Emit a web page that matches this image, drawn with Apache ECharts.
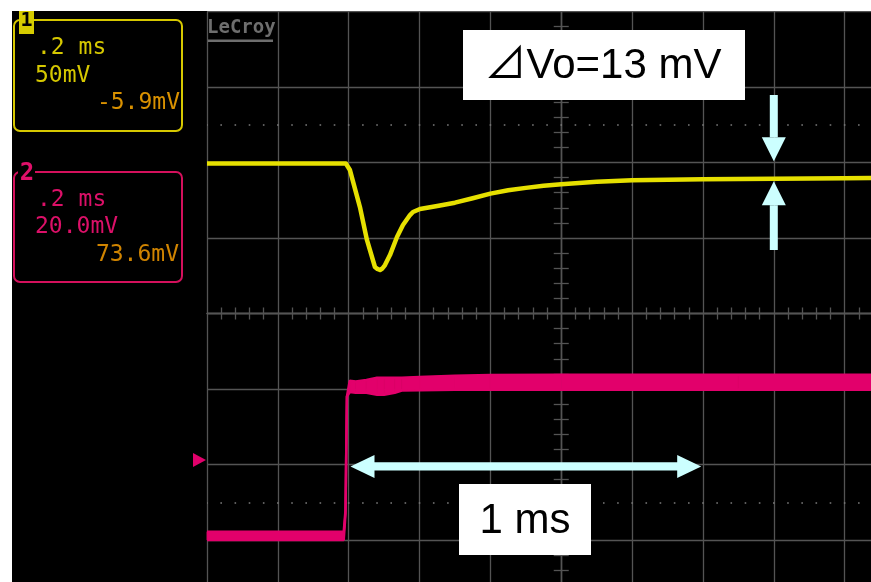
<!DOCTYPE html>
<html><head><meta charset="utf-8">
<script src="https://cdn.jsdelivr.net/npm/echarts@6/dist/echarts.min.js"></script>
<style>html,body{margin:0;padding:0;background:#fff}#c{width:871px;height:582px}</style>
</head><body><div id="c"></div>
<script>
// ---- data (time in ms relative to screen centre, voltage in mV screen units) ----
const ch1Time = [-1.0, -0.608, -0.5965, -0.5683, -0.5485, -0.5259, -0.519, -0.5117, -0.505, -0.4976, -0.4835, -0.4637, -0.4468, -0.427, -0.4185, -0.3988, -0.35, -0.30, -0.25, -0.20, -0.15, -0.10, -0.05, 0.0, 0.10, 0.20, 0.40, 0.60, 0.80, 1.0];
const ch1Volt = [99.3, 99.3, 95.0, 70.5, 48.7, 30.8, 29.5, 28.8, 29.8, 32.1, 38.7, 50.7, 58.6, 65.2, 67.2, 69.2, 71.2, 73.4, 76.3, 79.4, 81.6, 83.2, 84.6, 85.6, 87.2, 88.2, 88.9, 89.3, 89.6, 89.9];
const ch2Time = [-1.0, -0.614, -0.609, -0.605, -0.597, -0.58, -0.55, -0.52, -0.5, -0.47, -0.45, -0.4, -0.3, -0.2, 0.0, 0.5, 1.0];
const ch2High = [-57.8, -57.8, -52.0, -22.0, -17.8, -18.0, -17.6, -17.0, -17.0, -17.0, -17.0, -16.8, -16.5, -16.3, -16.2, -16.2, -16.2];
const ch2Low  = [-60.0, -60.0, -53.0, -22.0, -20.8, -21.0, -21.0, -21.5, -21.5, -21.0, -20.4, -20.3, -20.2, -20.2, -20.2, -20.2, -20.2];
const ch1Labels = ['.2 ms', '50mV', '-5.9mV'];
const ch2Labels = ['.2 ms', '20.0mV', '73.6mV'];
const deltaLabel = '⊿Vo=13 mV';
const timeLabel = '1 ms';
const deltaArrowTime = 0.6;
const deltaLevels = [100.8, 87.6];      // ch1 mV
const timeArrowRange = [-0.595, 0.395]; // ms
const timeArrowLevel = -40.5;           // ch2 mV
const ch1DotLevel = 125;
const ch2DotLevel = -50;

// ---- styles ----
const GRID = '#545454';
const YEL = '#e6e000';
const PINK = '#e2006b';
const CYAN = '#ccffff';
const MONO = '"DejaVu Sans Mono", monospace';
const SANS = '"Liberation Sans", "Noto Sans CJK JP", sans-serif';

const chart = echarts.init(document.getElementById('c'), null, {renderer: 'canvas'});

function xAxisCfg(pos, split) {
  return {
    type: 'value', min: -1, max: 1, interval: 0.2, position: pos,
    axisLine: {show: true, onZero: true, lineStyle: {color: GRID, width: 1.3}},
    axisTick: {show: false, inside: false},
    minorTick: {show: true, splitNumber: 5, length: 6, lineStyle: {color: GRID, width: 1.3}},
    axisLabel: {show: false},
    splitLine: {show: split, lineStyle: {color: GRID, width: 1.3}},
    minorSplitLine: {show: false}
  };
}
function yAxisCfg(pos, min, max, interval, split) {
  return {
    type: 'value', min: min, max: max, interval: interval, position: pos,
    axisLine: {show: true, onZero: true, lineStyle: {color: GRID, width: 1.3}},
    axisTick: {show: false, inside: false},
    minorTick: {show: true, splitNumber: 5, length: 7.5, lineStyle: {color: GRID, width: 1.3}},
    axisLabel: {show: false},
    splitLine: {show: split, lineStyle: {color: GRID, width: 1.3}},
    minorSplitLine: {show: false}
  };
}
const dotStyle = {color: '#7a7a7a', width: 1.6, type: [1.6, 12.57], dashOffset: 0.8};

// band segments for ch2 envelope: [t0, lo0, hi0, t1, lo1, hi1]
const ch2Segments = [];
for (let i = 0; i < ch2Time.length - 1; i++) {
  ch2Segments.push([ch2Time[i], ch2Low[i], ch2High[i], ch2Time[i + 1], ch2Low[i + 1], ch2High[i + 1]]);
}

const option = {
  animation: false,
  backgroundColor: '#000',
  grid: {left: 207, top: 11.5, width: 708.5, height: 604, containLabel: false, outerBoundsMode: 'none'},
  xAxis: [xAxisCfg('bottom', true), xAxisCfg('top', false)],
  yAxis: [yAxisCfg('left', -200, 200, 50, true), yAxisCfg('right', -80, 80, 20, false)],
  series: [
    {
      type: 'line', name: 'CH1', xAxisIndex: 0, yAxisIndex: 0,
      data: ch1Time.map((t, i) => [t, ch1Volt[i]]),
      symbol: 'none', showSymbol: false, z: 4,
      lineStyle: {color: YEL, width: 4.5, join: 'round'},
      markLine: {silent: true, symbol: 'none', label: {show: false}, animation: false,
        lineStyle: dotStyle, data: [{yAxis: ch1DotLevel}]}
    },
    {
      type: 'line', name: 'CH2 low', xAxisIndex: 0, yAxisIndex: 1,
      data: ch2Time.map((t, i) => [t, ch2Low[i]]),
      symbol: 'none', showSymbol: false, z: 3,
      lineStyle: {color: PINK, width: 2.5},
      markLine: {silent: true, symbol: 'none', label: {show: false}, animation: false,
        lineStyle: dotStyle, data: [{yAxis: ch2DotLevel}]}
    },
    {
      type: 'line', name: 'CH2 high', xAxisIndex: 0, yAxisIndex: 1,
      data: ch2Time.map((t, i) => [t, ch2High[i]]),
      symbol: 'none', showSymbol: false, z: 3,
      lineStyle: {color: PINK, width: 2.5}
    },
    {
      type: 'custom', name: 'CH2 band', xAxisIndex: 0, yAxisIndex: 1, z: 3,
      data: ch2Segments,
      encode: {x: [0, 3], y: [1, 2, 4, 5]},
      renderItem: function (params, api) {
        const a = api.coord([api.value(0), api.value(2)]);
        const b = api.coord([api.value(3), api.value(5)]);
        const c = api.coord([api.value(3), api.value(4)]);
        const d = api.coord([api.value(0), api.value(1)]);
        return {type: 'polygon', shape: {points: [a, b, c, d]},
          style: {fill: PINK, stroke: PINK, lineWidth: 0.8}};
      }
    }
  ]
};
chart.setOption(option);

function txt(text, x, y, fill, font, align) {
  return {type: 'text', z: 100, style: {text: text, x: x, y: y, fill: fill, font: font,
    align: align || 'left', textAlign: align || 'left', verticalAlign: 'middle', textVerticalAlign: 'middle'}};
}
function rect(x, y, w, h, style, r) {
  return {type: 'rect', z: 100, shape: {x: x, y: y, width: w, height: h, r: r || 0}, style: style};
}
function arrowV(x, tipY, dir, tailY) {
  const baseY = tipY - dir * 24;
  return [
    {type: 'polygon', z: 101, shape: {points: [[x, tipY], [x - 12, baseY], [x + 12, baseY]]}, style: {fill: CYAN}},
    rect(x - 4, Math.min(baseY, tailY), 8, Math.abs(tailY - baseY), {fill: CYAN})
  ];
}

const pTop = chart.convertToPixel({xAxisIndex: 0, yAxisIndex: 0}, [deltaArrowTime, deltaLevels[0]]);
const pBot = chart.convertToPixel({xAxisIndex: 0, yAxisIndex: 0}, [deltaArrowTime, deltaLevels[1]]);
const pL = chart.convertToPixel({xAxisIndex: 0, yAxisIndex: 1}, [timeArrowRange[0], timeArrowLevel]);
const pR = chart.convertToPixel({xAxisIndex: 0, yAxisIndex: 1}, [timeArrowRange[1], timeArrowLevel]);

const els = [];
// white page margins
els.push(rect(0, 0, 871, 11, {fill: '#fff'}));
els.push(rect(0, 0, 12, 582, {fill: '#fff'}));
// LeCroy logo
els.push(txt('LeCroy', 207, 28, '#6e6e6e', 'bold 19px ' + MONO));
els.push(rect(208, 39.5, 65, 2.5, {fill: '#6e6e6e'}));
// channel 1 box
els.push(rect(14, 20, 168, 111, {fill: 'none', stroke: '#d6c800', lineWidth: 2}, 6));
els.push(rect(19, 11, 15, 23, {fill: '#d6cc00'}));
els.push(txt('1', 26.5, 21, '#000', 'bold 20px ' + MONO, 'center'));
els.push(txt(ch1Labels[0], 37, 48, '#d6c800', '23px ' + MONO));
els.push(txt(ch1Labels[1], 35, 76, '#d6c800', '23px ' + MONO));
els.push(txt(ch1Labels[2], 180, 103, '#d99100', '23px ' + MONO, 'right'));
// channel 2 box
els.push(rect(14, 172, 168, 110, {fill: 'none', stroke: '#d4105c', lineWidth: 2}, 6));
els.push(rect(18, 161, 17, 24, {fill: '#000'}));
els.push(txt('2', 27, 174, '#e0106a', 'bold 24px ' + MONO, 'center'));
els.push(txt(ch2Labels[0], 37, 200, '#dc1068', '23px ' + MONO));
els.push(txt(ch2Labels[1], 35, 227, '#dc1068', '23px ' + MONO));
els.push(txt(ch2Labels[2], 179, 255, '#d08400', '23px ' + MONO, 'right'));
// ch2 offset marker
els.push({type: 'polygon', z: 100, shape: {points: [[193, 453], [206, 460], [193, 467]]}, style: {fill: PINK}});
// delta annotation
els.push(rect(463, 30, 282, 70, {fill: '#fff'}));
els.push(txt(deltaLabel, 603, 66, '#000', '42px ' + SANS, 'center'));
arrowV(pTop[0], pTop[1], 1, 95).forEach(e => els.push(e));
arrowV(pBot[0], pBot[1], -1, 250).forEach(e => els.push(e));
// time annotation
const hy = pL[1];
els.push({type: 'polygon', z: 101, shape: {points: [[pL[0], hy], [pL[0] + 24, hy - 11.5], [pL[0] + 24, hy + 11.5]]}, style: {fill: CYAN}});
els.push({type: 'polygon', z: 101, shape: {points: [[pR[0], hy], [pR[0] - 24, hy - 11.5], [pR[0] - 24, hy + 11.5]]}, style: {fill: CYAN}});
els.push(rect(pL[0] + 23, hy - 4.2, pR[0] - pL[0] - 46, 8.4, {fill: CYAN}));
els.push(rect(459, 484, 132, 71, {fill: '#fff'}));
els.push(txt(timeLabel, 525, 521, '#000', '42px ' + SANS, 'center'));

chart.setOption({graphic: {elements: els}});
</script></body></html>
